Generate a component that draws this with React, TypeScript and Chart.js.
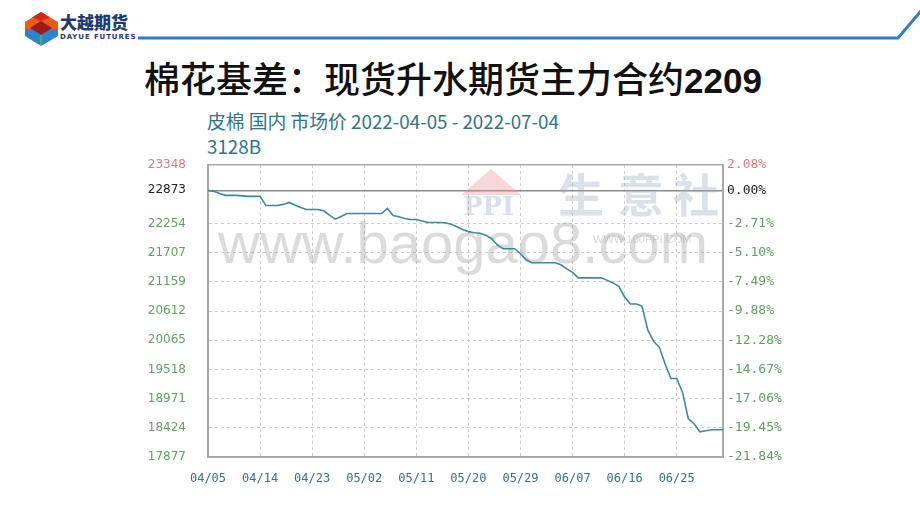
import React, { useEffect, useRef } from "react";
import { Chart, registerables } from "chart.js";

Chart.register(...registerables);

const dates: string[] = [
  "04/05","04/06","04/07","04/08","04/09","04/10","04/11","04/12","04/13","04/14",
  "04/15","04/16","04/17","04/18","04/19","04/20","04/21","04/22","04/23","04/24",
  "04/25","04/26","04/27","04/28","04/29","04/30",
  "05/01","05/02","05/03","05/04","05/05","05/06","05/07","05/08","05/09","05/10",
  "05/11","05/12","05/13","05/14","05/15","05/16","05/17","05/18","05/19","05/20",
  "05/21","05/22","05/23","05/24","05/25","05/26","05/27","05/28","05/29","05/30","05/31",
  "06/01","06/02","06/03","06/04","06/05","06/06","06/07","06/08","06/09","06/10",
  "06/11","06/12","06/13","06/14","06/15","06/16","06/17","06/18","06/19","06/20",
  "06/21","06/22","06/23","06/24","06/25","06/26","06/27","06/28","06/29","06/30",
  "07/01","07/02","07/03",
];

const prices: number[] = [
  22873, 22854, 22816, 22779, 22779, 22779, 22770, 22760, 22760, 22760,
  22590, 22590, 22590, 22610, 22647, 22600, 22553, 22515, 22515, 22515,
  22490, 22407, 22334, 22383, 22439, 22439, 22439, 22439, 22439, 22439,
  22439, 22534, 22402, 22380, 22345, 22326, 22326, 22300, 22270, 22270,
  22270, 22265, 22240, 22190, 22138, 22100, 22080, 22070, 22030, 21968,
  21850, 21780, 21780, 21780, 21686, 21572, 21516, 21516, 21516, 21516,
  21516, 21478, 21403, 21337, 21233, 21233, 21233, 21233, 21233, 21186,
  21139, 21073, 20875, 20743, 20743, 20705, 20257, 20046, 19932, 19618,
  19348, 19348, 19092, 18594, 18500, 18349, 18368, 18387, 18387, 18387,
];

const leftTicks: number[] = [17877, 18424, 18971, 19518, 20065, 20612, 21159, 21707, 22254, 22873, 23348];
const rightTickLabels: string[] = ["-21.84%", "-19.45%", "-17.06%", "-14.67%", "-12.28%", "-9.88%", "-7.49%", "-5.10%", "-2.71%", "0.00%", "2.08%"];
const baseValue = 22873;
const topValue = 23348;
const xLabelEvery = 9;

const titleText = "棉花基差：现货升水期货主力合约";
const titleNum = "2209";
const headerLine1 = "皮棉 国内 市场价 2022-04-05 - 2022-07-04";
const headerLine2 = "3128B";

const tickColor = (v: number | undefined) =>
  v === topValue ? "#e07a7a" : v === baseValue ? "#222222" : "#5f9f5f";

const watermarkPlugin = {
  id: "watermark",
  beforeDatasetsDraw(chart: any) {
    const { ctx, chartArea } = chart;
    ctx.save();
    ctx.fillStyle = "rgba(235,140,140,0.35)";
    ctx.beginPath();
    ctx.moveTo(chartArea.left + 253, chartArea.top + 30);
    ctx.lineTo(chartArea.left + 283, chartArea.top + 4);
    ctx.lineTo(chartArea.left + 313, chartArea.top + 30);
    ctx.closePath();
    ctx.fill();
    ctx.fillStyle = "rgba(140,160,200,0.35)";
    ctx.font = "bold 26px 'DejaVu Serif'";
    ctx.textBaseline = "middle";
    ctx.fillText("PPI", chartArea.left + 255, chartArea.top + 43);
    ctx.fillStyle = "rgba(150,170,190,0.35)";
    ctx.font = "bold 46px 'Noto Sans CJK SC'";
    ctx.fillText("生", chartArea.left + 350, chartArea.top + 30);
    ctx.fillText("意", chartArea.left + 410, chartArea.top + 30);
    ctx.fillText("社", chartArea.left + 465, chartArea.top + 30);
    ctx.font = "11px 'Liberation Sans'";
    ctx.fillStyle = "rgba(150,160,180,0.4)";
    ctx.fillText("WWW.100PPI.COM", chartArea.left + 385, chartArea.top + 75);
    ctx.fillStyle = "rgba(150,150,150,0.34)";
    ctx.font = "58px 'Liberation Sans'";
    ctx.fillText("www.baogao8.com", chartArea.left + 10, chartArea.top + 82);
    ctx.restore();
  },
};

function ChartBox() {
  const ref = useRef<HTMLCanvasElement | null>(null);
  useEffect(() => {
    if (!ref.current) return;
    const chart = new Chart(ref.current, {
      type: "line",
      data: {
        labels: dates,
        datasets: [
          {
            data: prices,
            borderColor: "#3f8a98",
            borderWidth: 1.6,
            pointRadius: 0,
            tension: 0,
            fill: false,
          },
        ],
      },
      options: {
        responsive: false,
        animation: false,
        layout: { padding: { top: 10, left: 0, right: 0, bottom: 0 } },
        plugins: { legend: { display: false }, tooltip: { enabled: false }, title: { display: false } },
        scales: {
          x: {
            type: "category",
            offset: false,
            afterFit: (s: any) => { s.height = 38; },
            grid: {
              drawTicks: false,
              color: (c: any) => (c.index !== undefined && c.index % xLabelEvery === 0 ? "#cdcdcd" : "rgba(0,0,0,0)"),
              lineWidth: 1,
            },
            border: { display: true, color: "#a8a8a8", width: 2, dash: [3, 3] },
            ticks: {
              autoSkip: false,
              maxRotation: 0,
              minRotation: 0,
              padding: 15,
              color: "#36708a",
              font: { family: "'DejaVu Sans Mono'", size: 12 },
              callback: (_v: any, i: number) => (i % xLabelEvery === 0 ? dates[i] : ""),
            },
          },
          y: {
            type: "linear",
            position: "left",
            min: leftTicks[0],
            max: leftTicks[leftTicks.length - 1],
            afterFit: (s: any) => { s.width = 68; },
            afterBuildTicks: (s: any) => { s.ticks = leftTicks.map((v) => ({ value: v })); },
            grid: {
              drawTicks: true,
              tickLength: 21,
              tickColor: "rgba(0,0,0,0)",
              color: (c: any) => {
                const v = c.tick ? c.tick.value : undefined;
                if (v === baseValue) return "#8c8c8c";
                if (v === topValue) return "#a8a8a8";
                return "#cdcdcd";
              },
              lineWidth: (c: any) => {
                const v = c.tick ? c.tick.value : undefined;
                return v === baseValue || v === topValue ? 1.5 : 1;
              },
            },
            border: {
              display: true,
              color: "#a8a8a8",
              width: 2,
              dash: (c: any) => {
                const v = c.tick ? c.tick.value : undefined;
                return v === baseValue || v === topValue ? [] : [3, 3];
              },
            },
            ticks: {
              padding: 1,
              color: (c: any) => tickColor(c.tick ? c.tick.value : undefined),
              font: { family: "'DejaVu Sans'", size: 12 },
              callback: (v: any) => String(v),
            },
          },
          y2: {
            type: "linear",
            position: "right",
            min: leftTicks[0],
            max: leftTicks[leftTicks.length - 1],
            afterFit: (s: any) => { s.width = 77; },
            afterBuildTicks: (s: any) => { s.ticks = leftTicks.map((v) => ({ value: v })); },
            grid: { display: false, drawTicks: true, tickLength: 4, tickColor: "rgba(0,0,0,0)" },
            border: { display: true, color: "#a8a8a8", width: 2 },
            ticks: {
              padding: 0,
              color: (c: any) => tickColor(c.tick ? c.tick.value : undefined),
              font: { family: "'DejaVu Sans Mono'", size: 13 },
              callback: (_v: any, i: number) => rightTickLabels[i],
            },
          },
        },
      } as any,
      plugins: [watermarkPlugin],
    });
    return () => chart.destroy();
  }, []);
  return (
    <canvas
      ref={ref}
      width={660}
      height={340}
      style={{ position: "absolute", left: 140, top: 155, width: 660, height: 340 }}
    />
  );
}

export default function App() {
  return (
    <div
      style={{
        position: "fixed",
        left: 0,
        top: 0,
        width: 920,
        height: 518,
        background: "#ffffff",
        overflow: "hidden",
      }}
    >
      <svg width={920} height={60} style={{ position: "absolute", left: 0, top: 0 }}>
        <polygon points="25,22 41,12 58,22 58,29 25,29" fill="#ea5a1f" />
        <polygon points="41,12 50,17.5 41,21 32,17.5" fill="#d7261e" />
        <polygon points="25,29 58,29 58,36 41,46 25,36" fill="#2a86c8" />
        <polygon points="41,21 52,28 41,35 30,28" fill="#9b1b1b" />
        <line x1={41} y1={35} x2={41} y2={46} stroke="#6ab04c" strokeWidth={1.5} />
        <polyline points="138,38 898,38 921,11" fill="none" stroke="#2f7dc3" strokeWidth={3} />
      </svg>
      <div
        style={{
          position: "absolute",
          left: 60,
          top: 11,
          fontFamily: "'Noto Sans CJK SC'",
          fontWeight: 900,
          fontSize: 17,
          lineHeight: "22px",
          color: "#1f3b6f",
          whiteSpace: "nowrap",
        }}
      >
        大越期货
      </div>
      <div
        style={{
          position: "absolute",
          left: 60,
          top: 33,
          fontFamily: "'DejaVu Sans'",
          fontWeight: 700,
          fontSize: 7,
          lineHeight: "9px",
          color: "#1f3b6f",
          letterSpacing: 0.9,
          whiteSpace: "nowrap",
        }}
      >
        DAYUE FUTURES
      </div>
      <div
        style={{
          position: "absolute",
          left: 144,
          top: 54,
          fontSize: 36,
          lineHeight: "46px",
          color: "#111111",
          whiteSpace: "nowrap",
        }}
      >
        <span style={{ fontFamily: "'Noto Sans CJK SC'", fontWeight: 500 }}>{titleText}</span>
        <span style={{ fontFamily: "'Liberation Sans'", fontWeight: 700, fontSize: 35 }}>{titleNum}</span>
      </div>
      <div
        style={{
          position: "absolute",
          left: 207,
          top: 108,
          fontFamily: "'Noto Sans CJK SC'",
          fontSize: 18.8,
          lineHeight: "25px",
          color: "#2f7487",
          whiteSpace: "pre",
        }}
      >
        {headerLine1}
        {"\n"}
        {headerLine2}
      </div>
      <ChartBox />
    </div>
  );
}
